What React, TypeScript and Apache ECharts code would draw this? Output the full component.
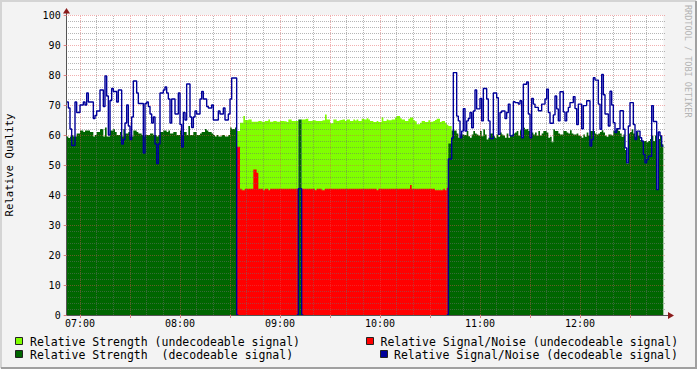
import React, { useEffect, useRef } from "react";
import * as echarts from "echarts";

// Time axis in minutes since midnight. 412 = 06:52, 770 = 12:50
const X_MIN = 412;
const X_MAX = 770;

// Decodeable period 1: 06:52 .. 08:33 (1-minute samples)
const DEC1_START = 412;
const decStrength1 = [
  59.5, 59, 59.5, 60, 59.5, 59.5, 60.5, 60.5, 61.5, 61.5,
  61, 61.5, 61.5, 61.5, 61, 61, 59.5, 60, 61, 61,
  62, 62, 59.5, 62.5, 59.5, 59.5, 61.5, 61.5, 62, 61,
  60, 60, 61, 59.5, 62, 60.5, 60.5, 61, 59.5, 59.5,
  61.5, 61.5, 61, 60.5, 60.5, 60, 59.5, 60, 60, 60,
  60.5, 60.5, 60, 60, 59.5, 60, 61, 61, 61.5, 61.5,
  61, 61.5, 60.5, 60.5, 61, 61, 60, 60, 61.5, 60,
  61, 61, 60, 63, 60, 60, 61, 61, 60, 60,
  60.5, 61, 61, 62, 61.5, 61, 61, 60.5, 60, 59.5,
  60, 59.5, 59.5, 60, 60, 59.5, 59.5, 60, 62.5, 62,
  62, 62.5,
];
const decSnr1 = [
  71, 69, 62, 56.5, 56.5, 71, 67.5, 67.5, 70, 70,
  71, 70, 74, 71, 71, 71, 65.5, 66.5, 68, 68,
  75, 75, 69.5, 79.7, 73, 60, 71.5, 75.5, 74.5, 74.5,
  71, 75, 75, 57, 58.5, 64, 70, 63, 58.5, 66,
  78, 78, 74, 70.5, 70.5, 70.5, 54, 70.5, 71, 69.5,
  67, 64, 66, 57, 50.5, 57, 74, 74, 75, 76,
  74, 72, 64, 72, 72, 67, 67, 74, 63.5, 56,
  67.5, 65, 77, 77, 66, 62.5, 66, 68, 67, 67,
  72, 74.5, 72, 72, 69.5, 69, 69, 70, 65, 65,
  65, 68, 67, 67, 69, 65, 65, 67, 72, 79,
  79, 79,
];

// Undecodeable period: 08:34 .. 10:42
const UNDEC_START = 514;
const undecStrength = [
  61.3, 61.3, 64.1, 64.1, 66.3, 65.0, 64.9, 65.2, 65.2, 64.4,
  64.4, 64.4, 64.4, 64.7, 64.7, 64.4, 64.4, 64.7, 64.7, 65.2,
  64.4, 64.4, 64.7, 64.7, 64.4, 64.4, 64.7, 64.7, 64.6, 64.6,
  64.3, 65.2, 65.2, 64.7, 64.7, 64.7, 64.7, 0, 0, 65.2,
  65.2, 65.4, 65.4, 64.7, 64.7, 64.9, 64.9, 64.7, 64.7, 64.7,
  64.7, 64.9, 64.9, 66.8, 65.2, 65.2, 63.9, 63.9, 65.2, 65.2,
  64.7, 64.9, 65.0, 65.2, 65.2, 64.7, 65.2, 65.2, 64.7, 64.7,
  65.2, 64.8, 65.2, 64.7, 64.7, 65.4, 65.2, 65.2, 65.6, 65.2,
  64.7, 64.7, 64.3, 64.3, 64.7, 64.3, 64.3, 65.9, 64.7, 64.7,
  65.2, 64.9, 64.9, 65.2, 65.2, 65.8, 66.3, 66.3, 65.6, 65.2,
  65.2, 64.7, 64.7, 65.4, 65.8, 65.8, 64.9, 64.6, 63.6, 63.6,
  64.1, 64.7, 64.7, 64.3, 64.3, 64.9, 64.4, 64.4, 64.7, 65.0,
  65.4, 65.4, 64.3, 64.7, 64.7, 64.1, 63.4, 63, 63,
];
const undecSnr = [
  56.1, 56.1, 42.1, 41.6, 41.6, 42.1, 42.1, 42.1, 42.1, 42.1,
  48.5, 48.5, 47.4, 42.1, 42.1, 42.1, 41.6, 42.1, 42.1, 41.6,
  42.1, 42.1, 42.1, 42.1, 42.1, 42.1, 42.1, 42.1, 42.1, 42.1,
  42.1, 42.1, 42.1, 42.1, 42.1, 42.1, 42.1, 0, 0, 42.1,
  42.1, 42.1, 42.1, 42.1, 42.1, 42.1, 42.1, 41.6, 42.1, 42.1,
  42.1, 41.6, 41.6, 42.1, 42.1, 42.1, 42.1, 42.1, 42.1, 42.1,
  42.1, 42.1, 42.1, 42.1, 42.1, 42.1, 42.1, 42.1, 42.1, 42.1,
  42.1, 42.1, 42.1, 42.1, 42.1, 42.1, 42.1, 42.1, 42.1, 42.1,
  42.1, 42.1, 42.1, 42.1, 41.6, 42.1, 42.1, 42.1, 42.1, 42.1,
  42.1, 42.1, 42.1, 42.1, 42.1, 42.1, 42.1, 42.1, 42.1, 42.1,
  42.1, 42.1, 42.1, 42.1, 43.3, 42.1, 42.1, 42.1, 42.1, 42.1,
  42.1, 42.1, 42.1, 42.1, 42.1, 42.1, 42.1, 42.1, 42.1, 41.6,
  41.6, 41.6, 41.6, 41.6, 42.1, 41.6, 42.4,
];

// Short decodeable blip at 09:11
const BLIP_START = 551;
const blipStrength = [65.2, 65.2];
const blipSnr = [42.1, 42.1];

// Decodeable period 2: 10:41 .. 12:49
const DEC2_START = 641;
const decStrength2 = [
  57.2, 57.2, 61.5, 61.5, 61.5, 60.5, 59.1, 60.2, 60.2, 60.0,
  60.0, 61.3, 59.6, 59.1, 60.2, 61.3, 60.5, 60.2, 59.8, 61.3,
  59.6, 61.9, 60.2, 58.5, 59.1, 60.5, 60.5, 59.6, 59.1, 60.2,
  59.4, 60.8, 60.2, 59.8, 59.1, 60.5, 59.1, 59.8, 60.2, 60.5,
  60.8, 61.3, 59.8, 61.6, 59.1, 62.4, 61.9, 62.1, 61.3, 59.1,
  60.8, 60.2, 60.8, 59.8, 61.3, 59.8, 60.5, 61.3, 61.3, 60.8,
  59.1, 59.4, 57.6, 61.9, 61.3, 61.3, 60.5, 60.2, 60.2, 61.3,
  61.3, 60.8, 60.5, 61.6, 60.5, 60.2, 60.2, 60.5, 59.8, 59.6,
  59.1, 60.2, 59.4, 60.8, 59.8, 61.3, 61.3, 61.3, 60.5, 60.2,
  60.5, 61.0, 61.6, 60.8, 59.8, 59.4, 60.2, 60.2, 59.8, 61.3,
  61.6, 62.1, 61.3, 60.5, 59.4, 60.2, 55.0, 50.5, 60.5, 61.0,
  61.9, 60.5, 59.4, 61.0, 59.8, 58.3, 58.0, 58.0, 58.0, 57.6,
  58.0, 58.7, 59.8, 58.0, 59.8, 42.0, 58.7, 59.8, 56.9,
];
const decSnr2 = [
  52, 52, 59, 80.8, 80.8, 66.3, 64.7, 59.1, 61.3, 68.8,
  61.3, 64.7, 65.5, 67.5, 62.4, 68, 75, 68.7, 68.7, 72.2,
  64.7, 75.5, 75.5, 72, 64.7, 58.8, 58.8, 74, 74, 72.4,
  60.2, 67.5, 68, 68, 65.5, 67.5, 70.3, 59.7, 59.7, 71.1,
  70.8, 70.8, 70.3, 71.4, 59.1, 76.9, 76.9, 77.7, 67, 59.1,
  72.2, 70.3, 69.2, 69.2, 68.1, 68.1, 70.3, 70.3, 72, 75.3,
  67.5, 63.9, 63.9, 66.7, 73, 68.7, 64.7, 74.4, 74.4, 67.7,
  64.7, 67.7, 69.2, 70.8, 70.8, 72.8, 68.8, 63.5, 70.3, 70.3,
  62.1, 69.8, 69.8, 71.4, 71.4, 56.3, 58.5, 79.1, 78.3, 78.3,
  70.3, 61.9, 80.2, 73.4, 67, 67, 63, 74.6, 70, 64.1,
  60.8, 62.1, 62.1, 68.1, 68.1, 61.9, 55.7, 50.7, 63, 70.8,
  70.8, 63.5, 58.5, 61.3, 61.3, 59.1, 58, 53.5, 50.7, 51.8,
  52.9, 52.9, 69.8, 64.5, 64.5, 41.8, 61, 59.7, 56.3,
];

const hourTicks = [420, 480, 540, 600, 660, 720];
const halfHourTicks = [420, 450, 480, 510, 540, 570, 600, 630, 660, 690, 720, 750];

const FONT = '"DejaVu Sans Mono", monospace';
const C_LIGHT = "#80FF00";
const C_DARK = "#006600";
const C_RED = "#FF0000";
const C_BLUE = "#000099";
const GRID_MINOR = "rgba(110,110,110,0.5)";
const GRID_MAJOR = "rgba(225,80,80,0.45)";

// Build a step series over the whole time range; minutes not covered by a part get `fill`.
function build(parts: [number, number[]][], fill: number | null): [number, number | null][] {
  const m = new Map<number, number>();
  parts.forEach(([start, vals]) => vals.forEach((v, i) => m.set(start + i, v)));
  const out: [number, number | null][] = [];
  for (let t = X_MIN; t < X_MAX; t++) out.push([t, m.has(t) ? (m.get(t) as number) : fill]);
  out.push([X_MAX, out[out.length - 1][1]]);
  return out;
}

// The decodeable S/N line drops to zero where the signal stops being decodeable.
function withDrops(data: [number, number | null][]) {
  const out = data.map((d) => [d[0], d[1]] as [number, number | null]);
  for (let i = 0; i < data.length; i++) {
    if (data[i][1] !== null) continue;
    const prevKnown = i > 0 && data[i - 1][1] !== null;
    const nextKnown = i < data.length - 1 && data[i + 1][1] !== null;
    if (prevKnown || nextKnown) out[i][1] = 0;
  }
  return out;
}

function fmt(v: number) {
  const h = Math.floor(v / 60);
  const mm = v % 60;
  return String(h).padStart(2, "0") + ":" + String(mm).padStart(2, "0");
}

export default function App() {
  const ref = useRef<HTMLDivElement>(null);
  useEffect(() => {
    if (!ref.current) return;
    const chart = echarts.init(ref.current, null, { renderer: "svg" });

    const lightData = build([[UNDEC_START, undecStrength]], 0);
    const darkData = build([[DEC1_START, decStrength1], [BLIP_START, blipStrength], [DEC2_START, decStrength2]], 0);
    const redData = build([[UNDEC_START, undecSnr]], 0);
    const blueData = withDrops(build([[DEC1_START, decSnr1], [BLIP_START, blipSnr], [DEC2_START, decSnr2]], null));

    // grid lines: [value, kind]  kind 0 = horizontal minor, 1 = horizontal major, 2 = vertical minor, 3 = vertical major
    const gridData: [number, number][] = [];
    for (let v = 2; v <= 100; v += 2) gridData.push([v, v % 10 === 0 ? 1 : 0]);
    for (let t = 420; t < X_MAX; t += 10) gridData.push([t, t % 30 === 0 ? 3 : 2]);

    const areaSeries = (name: string, data: any, color: string) => ({
      name,
      type: "line",
      data,
      step: "end",
      showSymbol: false,
      symbol: "none",
      lineStyle: { width: 0, opacity: 0 },
      areaStyle: { color, opacity: 1 },
      itemStyle: { color },
      z: 2,
    });

    const legendItems = [
      { x: 15, y: 337, color: C_LIGHT, tx: 30, text: "Relative Strength (undecodeable signal)" },
      { x: 366, y: 337, color: C_RED, tx: 380.5, text: "Relative Signal/Noise (undecodeable signal)" },
      { x: 15, y: 350, color: C_DARK, tx: 30, text: "Relative Strength  (decodeable signal)" },
      { x: 380, y: 350, color: C_BLUE, tx: 394, text: "Relative Signal/Noise (decodeable signal)" },
    ];

    const graphic: any[] = [
      { type: "polyline", shape: { points: [[1, 368], [1, 1], [696, 1]] }, style: { stroke: "#D4D4D4", lineWidth: 2, fill: "none" }, silent: true },
      { type: "polyline", shape: { points: [[1, 368], [696, 368], [696, 1]] }, style: { stroke: "#A0A0A0", lineWidth: 2, fill: "none" }, silent: true },
      { type: "line", shape: { x1: 663, y1: 315.5, x2: 669, y2: 315.5 }, style: { stroke: "#555", lineWidth: 1 }, silent: true },
      { type: "polygon", shape: { points: [[668, 312], [668, 319], [674, 315.5]] }, style: { fill: "#8B1C1C" }, silent: true },
      { type: "line", shape: { x1: 66.5, y1: 15, x2: 66.5, y2: 12 }, style: { stroke: "#555", lineWidth: 1 }, silent: true },
      { type: "polygon", shape: { points: [[63, 13.5], [70, 13.5], [66.5, 8]] }, style: { fill: "#8B1C1C" }, silent: true },
      {
        type: "text",
        x: 688,
        y: 5,
        rotation: -Math.PI / 2,
        silent: true,
        style: { text: "RRDTOOL / TOBI OETIKER", font: "8.5px " + FONT, fill: "#B4B4B4", textAlign: "left", textVerticalAlign: "middle" },
      },
    ];
    legendItems.forEach((it) => {
      graphic.push({ type: "rect", shape: { x: it.x + 0.5, y: it.y + 0.5, width: 7, height: 7 }, style: { fill: it.color, stroke: "#222", lineWidth: 1 }, silent: true });
      graphic.push({ type: "text", x: it.tx, y: it.y + 4.5, silent: true, style: { text: it.text, font: "11.5px " + FONT, fill: "#000", textAlign: "left", textVerticalAlign: "middle" } });
    });

    chart.setOption({
      animation: false,
      backgroundColor: "#F3F3F3",
      grid: {
        left: 66.67,
        top: 15,
        width: 596.67,
        height: 300,
        show: true,
        backgroundColor: "#FFFFFF",
        borderWidth: 0,
        containLabel: false,
        outerBoundsMode: "none",
      },
      xAxis: {
        type: "value",
        min: X_MIN,
        max: X_MAX,
        z: 5,
        axisLine: { show: true, onZero: false, lineStyle: { color: "#555", width: 1 } },
        axisTick: { show: true, customValues: halfHourTicks, length: 3, lineStyle: { color: "#E08080" } },
        axisLabel: { show: true, customValues: hourTicks, formatter: (v: number) => fmt(v), fontFamily: FONT, fontSize: 10, color: "#000", margin: 3 },
        splitLine: { show: false },
      },
      yAxis: {
        type: "value",
        min: 0,
        max: 100,
        interval: 10,
        z: 5,
        name: "Relative Quality",
        nameLocation: "middle",
        nameGap: 52,
        nameRotate: 90,
        nameTextStyle: { fontFamily: FONT, fontSize: 10.7, color: "#000" },
        axisLine: { show: true, lineStyle: { color: "#555", width: 1 } },
        axisTick: { show: true, length: 3, lineStyle: { color: "#E08080" } },
        axisLabel: { fontFamily: FONT, fontSize: 10, color: "#000", margin: 6 },
        splitLine: { show: false },
      },
      series: [
        areaSeries("Relative Strength (undecodeable signal)", lightData, C_LIGHT),
        areaSeries("Relative Strength  (decodeable signal)", darkData, C_DARK),
        areaSeries("Relative Signal/Noise (undecodeable signal)", redData, C_RED),
        {
          type: "custom",
          name: "grid",
          data: gridData,
          encode: { x: 0, y: 1 },
          silent: true,
          clip: false,
          z: 2,
          renderItem: (params: any, api: any) => {
            const v = api.value(0);
            const k = api.value(1);
            let x1, y1, x2, y2;
            if (k < 2) {
              const a = api.coord([X_MIN, v]);
              const b = api.coord([X_MAX, v]);
              y1 = y2 = Math.round(a[1]) + 0.5;
              x1 = Math.floor(a[0]);
              x2 = Math.ceil(b[0]) + 2;
            } else {
              const a = api.coord([v, 0]);
              const b = api.coord([v, 100]);
              x1 = x2 = Math.floor(a[0]) + 0.5;
              y1 = Math.round(a[1]);
              y2 = Math.round(b[1]);
            }
            return {
              type: "line",
              shape: { x1, y1, x2, y2 },
              style: { stroke: k % 2 ? GRID_MAJOR : GRID_MINOR, lineWidth: 1, lineDash: [1, 1] },
              silent: true,
            };
          },
        },
        {
          name: "Relative Signal/Noise (decodeable signal)",
          type: "line",
          data: blueData,
          step: "end",
          connectNulls: false,
          showSymbol: false,
          symbol: "none",
          lineStyle: { color: C_BLUE, width: 1.4 },
          itemStyle: { color: C_BLUE },
          z: 3,
        },
      ],
      graphic,
    });
    return () => chart.dispose();
  }, []);
  return <div ref={ref} style={{ position: "absolute", left: 0, top: 0, width: 697, height: 369 }} />;
}
